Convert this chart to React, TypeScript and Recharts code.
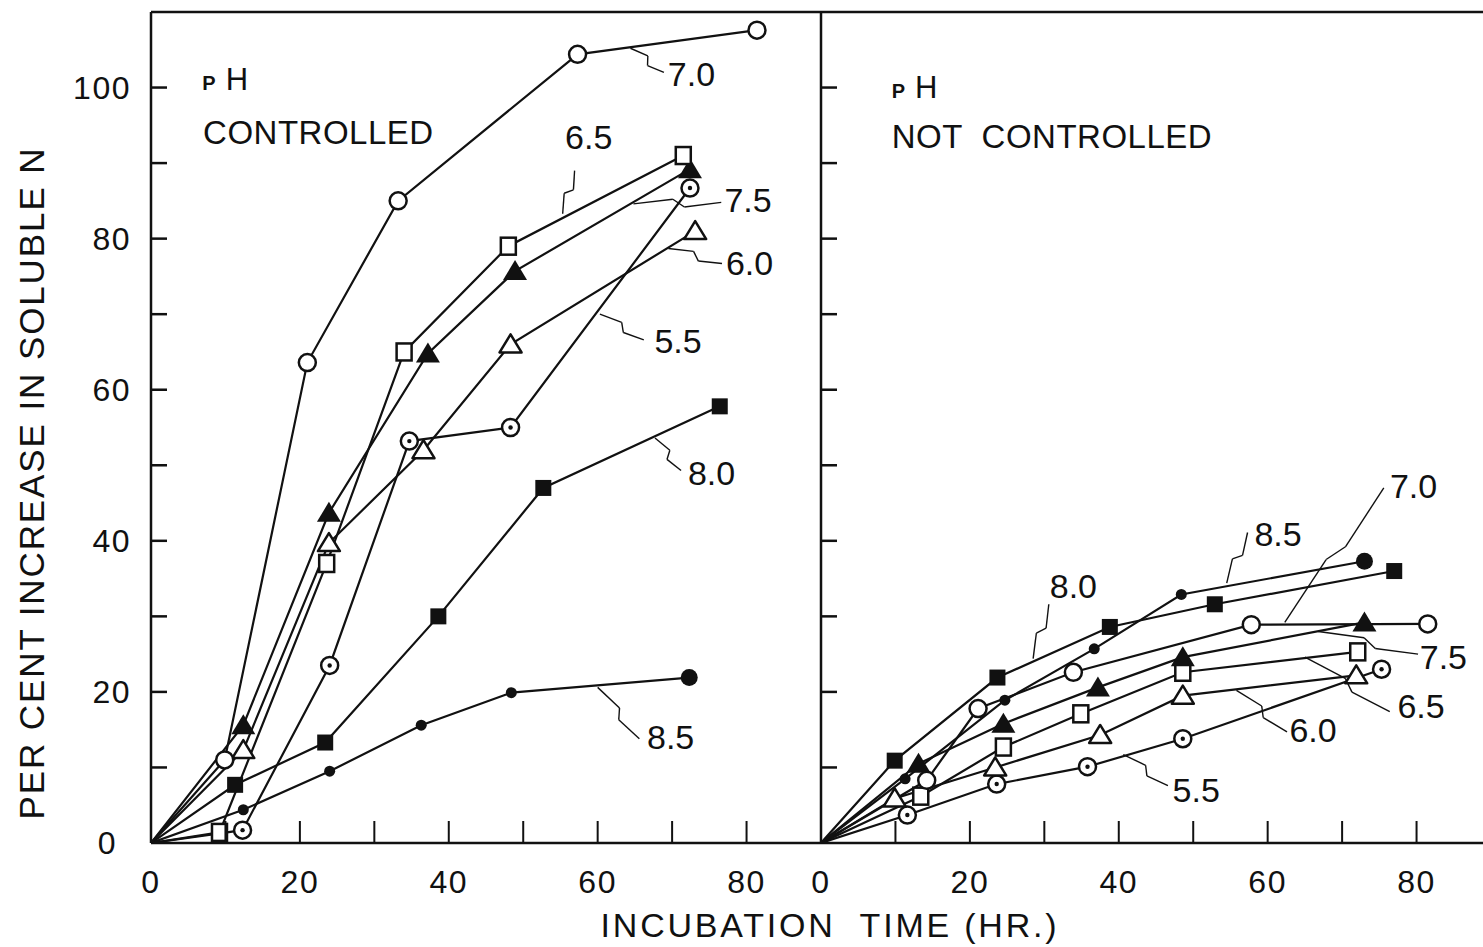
import React from "react"
import { ComposedChart, Line, Scatter, XAxis, YAxis, ReferenceLine } from "recharts"

type Pt = [number, number]

// pH controlled (left panel): [incubation hours, per cent increase]
const ctrl55: Pt[] = [[0, 0], [12.3, 1.7], [24, 23.5], [34.7, 53.2], [48.3, 55], [72.4, 86.7]]
const ctrl60: Pt[] = [[0, 0], [12.4, 12.3], [23.9, 39.7], [36.6, 52], [48.3, 66], [73.1, 81]]
const ctrl65: Pt[] = [[0, 0], [9.2, 1.4], [23.6, 37], [34, 65], [48, 79], [71.5, 91]]
const ctrl70: Pt[] = [[0, 0], [9.9, 11], [21, 63.6], [33.2, 85], [57.3, 104.4], [81.4, 107.6]]
const ctrl75: Pt[] = [[0, 0], [12.4, 15.6], [23.9, 43.7], [37.2, 64.8], [48.9, 75.7], [72.4, 89.2]]
const ctrl80: Pt[] = [[0, 0], [11.3, 7.7], [23.4, 13.3], [38.6, 30], [52.7, 47], [76.4, 57.8]]
const ctrl85: Pt[] = [[0, 0], [12.4, 4.4], [24, 9.5], [36.3, 15.6], [48.4, 19.9], [72.3, 21.9]]

// pH not controlled (right panel)
const free55: Pt[] = [[0, 0], [11.6, 3.7], [23.6, 7.8], [35.8, 10.1], [48.6, 13.8], [75.3, 23]]
const free60: Pt[] = [[0, 0], [9.9, 5.9], [23.4, 10], [37.5, 14.3], [48.6, 19.5], [71.9, 22.2]]
const free65: Pt[] = [[0, 0], [13.4, 6.2], [24.5, 12.7], [34.9, 17.1], [48.6, 22.6], [72.1, 25.3]]
const free70: Pt[] = [[0, 0], [14.2, 8.3], [21.1, 17.8], [33.9, 22.6], [57.8, 28.9], [81.5, 29]]
const free75: Pt[] = [[0, 0], [13.1, 10.5], [24.5, 15.8], [37.2, 20.6], [48.6, 24.6], [73, 29.2]]
const free80: Pt[] = [[0, 0], [9.9, 10.9], [23.7, 21.9], [38.8, 28.6], [52.9, 31.6], [77, 36]]
const free85: Pt[] = [[0, 0], [11.3, 8.5], [24.7, 18.9], [36.7, 25.7], [48.4, 32.9], [73, 37.3]]

const xTicks = [0, 10, 20, 30, 40, 50, 60, 70, 80]
const yTicks = [0, 10, 20, 30, 40, 50, 60, 70, 80, 90, 100]

// marker per pH value
const markerOf: Record<string, string> = {
  "5.5": "dotCircle",
  "6.0": "tri",
  "6.5": "square",
  "7.0": "circle",
  "7.5": "solidTri",
  "8.0": "block",
  "8.5": "disc",
}

const leftSeries: [string, Pt[]][] = [
  ["8.5", ctrl85], ["8.0", ctrl80], ["5.5", ctrl55], ["6.0", ctrl60],
  ["7.5", ctrl75], ["6.5", ctrl65], ["7.0", ctrl70],
]
const rightSeries: [string, Pt[]][] = [
  ["5.5", free55], ["6.0", free60], ["6.5", free65], ["7.5", free75],
  ["7.0", free70], ["8.0", free80], ["8.5", free85],
]

// curve labels and panel headings
const leftNotes = [
  { x: 6.9, y: 99.7, kind: "ph", text: "H" },
  { x: 7.0, y: 92.5, kind: "head", text: "CONTROLLED" },
  { x: 72.6, y: 101.8, text: "7.0" },
  { x: 58.8, y: 93.5, text: "6.5" },
  { x: 80.2, y: 85.1, text: "7.5" },
  { x: 80.4, y: 76.8, text: "6.0" },
  { x: 70.8, y: 66.5, text: "5.5" },
  { x: 75.3, y: 49.0, text: "8.0" },
  { x: 69.8, y: 14.0, text: "8.5" },
]
const rightNotes = [
  { x: 9.5, y: 98.6, kind: "ph", text: "H" },
  { x: 9.5, y: 92.0, kind: "head", text: "NOT  CONTROLLED" },
  { x: 79.6, y: 47.3, text: "7.0" },
  { x: 61.4, y: 40.9, text: "8.5" },
  { x: 33.9, y: 34.0, text: "8.0" },
  { x: 83.6, y: 24.6, text: "7.5" },
  { x: 80.6, y: 18.2, text: "6.5" },
  { x: 66.1, y: 14.9, text: "6.0" },
  { x: 50.4, y: 7.0, text: "5.5" },
]

// leader lines from label to curve: [from, to]
const leftLeaders: [Pt, Pt][] = [
  [[68.9, 102.0], [64.4, 105.2]],
  [[56.9, 89.0], [55.3, 83.3]],
  [[76.6, 84.8], [64.8, 84.6]],
  [[76.7, 76.7], [69.5, 78.7]],
  [[66.2, 66.6], [60.3, 70.0]],
  [[71.2, 49.3], [67.7, 53.6]],
  [[65.6, 13.8], [60.0, 20.6]],
]
const rightLeaders: [Pt, Pt][] = [
  [[75.6, 47.0], [62.3, 29.2]],
  [[57.3, 41.1], [54.5, 34.4]],
  [[30.6, 31.6], [28.5, 24.4]],
  [[80.2, 25.0], [66.8, 28.0]],
  [[76.4, 17.4], [65.0, 24.6]],
  [[62.6, 14.7], [55.8, 20.2]],
  [[46.6, 7.6], [40.6, 11.7]],
]

const INK = "#111"
const FONT = "'Liberation Sans', Arial, sans-serif"
const PLOT_H = 831
const PLOT_W = 670
const PX = PLOT_W / 90
const PY = PLOT_H / 110

// small lightning-style kink in the middle of a leader
function zig([a, b]: [Pt, Pt]): Pt[] {
  const dx = (b[0] - a[0]) * PX
  const dy = (b[1] - a[1]) * PY
  const len = Math.hypot(dx, dy) || 1
  const nx = (-dy / len) * 4
  const ny = (dx / len) * 4
  const m1: Pt = [a[0] + (dx * 0.42 + nx) / PX, a[1] + (dy * 0.42 + ny) / PY]
  const m2: Pt = [a[0] + (dx * 0.55 - nx) / PX, a[1] + (dy * 0.55 - ny) / PY]
  return [a, m1, m2, b]
}

function Marker({ cx, cy, kind, big }: { cx: number; cy: number; kind: string; big: boolean }) {
  if (cx == null || cy == null) return null
  switch (kind) {
    case "circle":
      return <circle cx={cx} cy={cy} r={8.5} fill="#fff" stroke={INK} strokeWidth={2.5} />
    case "dotCircle":
      return (
        <g>
          <circle cx={cx} cy={cy} r={8.5} fill="#fff" stroke={INK} strokeWidth={2.5} />
          <circle cx={cx} cy={cy} r={2.2} fill={INK} />
        </g>
      )
    case "disc":
      return <circle cx={cx} cy={cy} r={big ? 8.5 : 5.5} fill={INK} />
    case "square":
      return <rect x={cx - 7.5} y={cy - 8.5} width={15} height={17} fill="#fff" stroke={INK} strokeWidth={2.5} />
    case "block":
      return <rect x={cx - 8} y={cy - 8} width={16} height={16} fill={INK} />
    case "tri":
      return (
        <polygon
          points={`${cx},${cy - 10} ${cx - 11},${cy + 8} ${cx + 11},${cy + 8}`}
          fill="#fff"
          stroke={INK}
          strokeWidth={2.5}
          strokeLinejoin="round"
        />
      )
    case "solidTri":
      return <polygon points={`${cx},${cy - 11} ${cx - 12},${cy + 9} ${cx + 12},${cy + 9}`} fill={INK} />
    default:
      return null
  }
}

function NoteShape(props: any) {
  const { cx, cy, payload } = props
  if (cx == null || cy == null) return null
  if (payload.kind === "ph") {
    return (
      <text x={cx} y={cy} fill={INK} style={{ fontFamily: FONT }}>
        <tspan fontSize={20} fontWeight={700}>P</tspan>
        <tspan dx={10} fontSize={31}>{payload.text}</tspan>
      </text>
    )
  }
  if (payload.kind === "head") {
    return (
      <text x={cx} y={cy} fill={INK} fontSize={33} style={{ fontFamily: FONT, whiteSpace: "pre", letterSpacing: 0.5 }}>
        {payload.text}
      </text>
    )
  }
  return (
    <text x={cx} y={cy} fill={INK} fontSize={34} textAnchor="middle" dominantBaseline="central" style={{ fontFamily: FONT }}>
      {payload.text}
    </text>
  )
}

const tickText = { fontFamily: FONT, letterSpacing: 1.5 }

function LeftYTick({ x, y, payload }: any) {
  const v = payload.value
  return (
    <g>
      {v !== 0 && <line x1={x} x2={x + 16} y1={y} y2={y} stroke={INK} strokeWidth={2.5} />}
      {v % 20 === 0 && (
        <text x={v === 0 ? x - 34 : x - 20} y={y} fill={INK} fontSize={32} textAnchor="end" dominantBaseline="central" style={tickText}>
          {v}
        </text>
      )}
    </g>
  )
}

function RightYTick({ x, y, payload }: any) {
  if (payload.value === 0) return null
  return <line x1={x} x2={x + 16} y1={y} y2={y} stroke={INK} strokeWidth={2.5} />
}

function XTick({ x, y, payload }: any) {
  const v = payload.value
  return (
    <g>
      {v !== 0 && <line x1={x} x2={x} y1={y} y2={y - 22} stroke={INK} strokeWidth={2} />}
      {v % 20 === 0 && (
        <text x={x} y={y + 39} fill={INK} fontSize={32} textAnchor="middle" dominantBaseline="central" style={tickText}>
          {v}
        </text>
      )}
    </g>
  )
}

function Panel({
  series,
  notes,
  leaders,
  yAxisWidth,
  width,
  left,
}: {
  series: [string, Pt[]][]
  notes: any[]
  leaders: [Pt, Pt][]
  yAxisWidth: number
  width: number
  left: number
}) {
  return (
    <div style={{ position: "absolute", left, top: 0 }}>
      <ComposedChart width={width} height={947} margin={{ top: 12, right: 0, bottom: 0, left: 0 }}>
        <XAxis
          type="number"
          dataKey="x"
          domain={[0, 90]}
          ticks={xTicks}
          interval={0}
          tickSize={0}
          tickMargin={0}
          tickLine={false}
          tick={<XTick />}
          height={104}
          axisLine={{ stroke: INK, strokeWidth: 2.5 }}
          allowDataOverflow
        />
        <YAxis
          type="number"
          dataKey="y"
          domain={[0, 110]}
          ticks={yTicks}
          interval={0}
          tickSize={0}
          tickMargin={0}
          tickLine={false}
          tick={left === 0 ? <LeftYTick /> : <RightYTick />}
          width={yAxisWidth}
          axisLine={{ stroke: INK, strokeWidth: 2.5 }}
          allowDataOverflow
        />
        <ReferenceLine y={110} stroke={INK} strokeWidth={2.5} />
        {leaders.map((ld, i) => {
          const pts = zig(ld)
          return pts.slice(1).map((p, j) => (
            <ReferenceLine
              key={`ld-${i}-${j}`}
              segment={[{ x: pts[j][0], y: pts[j][1] }, { x: p[0], y: p[1] }]}
              stroke={INK}
              strokeWidth={1.4}
            />
          ))
        })}
        {series.map(([ph, pts]) => (
          <Line
            key={ph}
            data={pts.map(([x, y]) => ({ x, y }))}
            dataKey="y"
            type="linear"
            stroke={INK}
            strokeWidth={2.2}
            isAnimationActive={false}
            dot={(p: any) =>
              p.index === 0 ? (
                <g key={`d-${ph}-${p.index}`} />
              ) : (
                <g key={`d-${ph}-${p.index}`}>
                  <Marker cx={p.cx} cy={p.cy} kind={markerOf[ph]} big={p.index === pts.length - 1} />
                </g>
              )
            }
            activeDot={false}
          />
        ))}
        <Scatter data={notes} shape={NoteShape} isAnimationActive={false} />
      </ComposedChart>
    </div>
  )
}

export default function App() {
  return (
    <div
      style={{
        position: "absolute",
        left: 0,
        top: 0,
        width: 1483,
        height: 947,
        overflow: "hidden",
        background: "#fff",
      }}
    >
      <Panel series={leftSeries} notes={leftNotes} leaders={leftLeaders} yAxisWidth={151} width={151 + PLOT_W} left={0} />
      <Panel series={rightSeries} notes={rightNotes} leaders={rightLeaders} yAxisWidth={21} width={21 + PLOT_W} left={800} />
      <svg width={1483} height={947} style={{ position: "absolute", left: 0, top: 0, pointerEvents: "none" }}>
        <text
          transform="translate(31,483) rotate(-90)"
          fill={INK}
          fontSize={35}
          textAnchor="middle"
          dominantBaseline="central"
          style={{ fontFamily: FONT, letterSpacing: 1.9 }}
        >
          PER CENT INCREASE IN SOLUBLE N
        </text>
        <text x={830} y={937} fill={INK} fontSize={34} textAnchor="middle" style={{ fontFamily: FONT, letterSpacing: 2.8, whiteSpace: "pre" }}>
          INCUBATION  TIME (HR.)
        </text>
      </svg>
    </div>
  )
}
